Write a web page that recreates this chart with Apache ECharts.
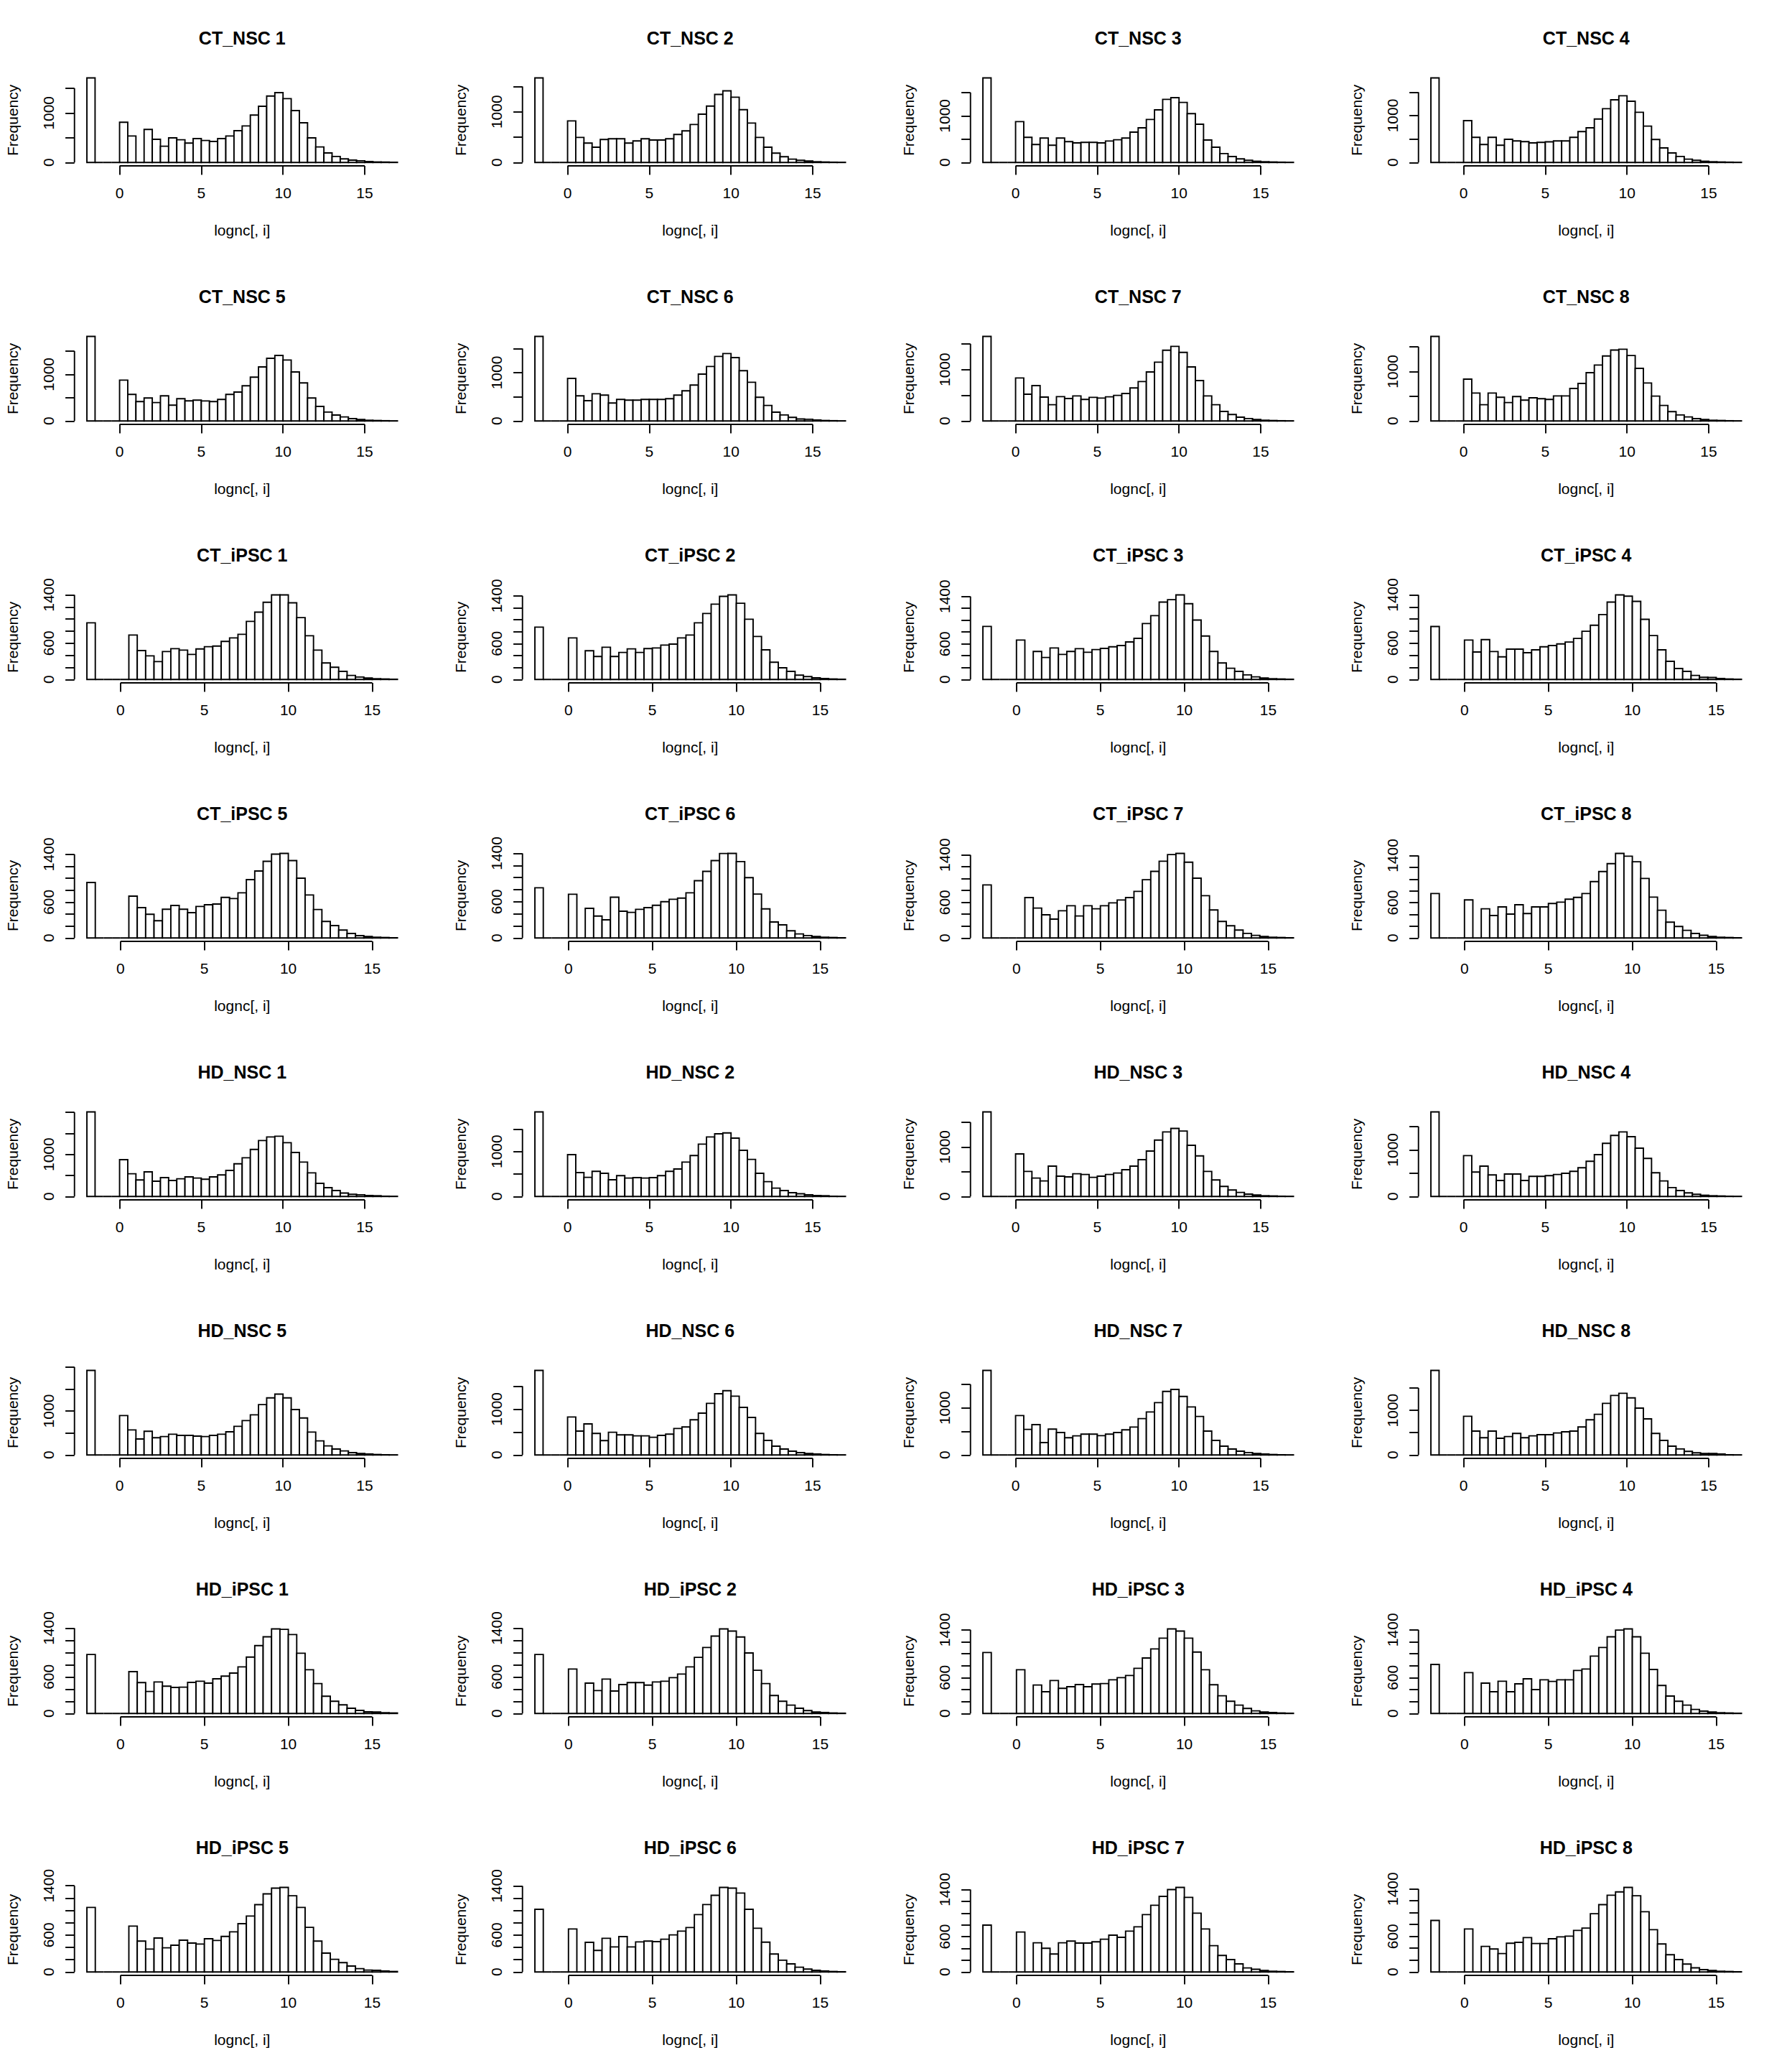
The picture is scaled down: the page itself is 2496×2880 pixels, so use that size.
<!DOCTYPE html>
<html>
<head>
<meta charset="utf-8">
<script src="https://cdn.jsdelivr.net/npm/echarts@6/dist/echarts.min.js"></script>
<style>
html,body{margin:0;padding:0;background:#fff;}
#chart{width:2496px;height:2880px;}
</style>
</head>
<body>
<div id="chart"></div>
<script>
// ---------------- DATA ----------------
// Histogram bins start at -2, width 0.5 (right-closed as in R's hist)
const binStart = -2;
const binWidth = 0.5;

const xTickValues = [0, 5, 10, 15];
const nscYTickStep = 500;
const ipscYTickStep = 200;
const nscYLabels = [0, 1000];
const ipscYLabels = [0, 600, 1400];

const panelNames = [
  'CT_NSC 1','CT_NSC 2','CT_NSC 3','CT_NSC 4',
  'CT_NSC 5','CT_NSC 6','CT_NSC 7','CT_NSC 8',
  'CT_iPSC 1','CT_iPSC 2','CT_iPSC 3','CT_iPSC 4',
  'CT_iPSC 5','CT_iPSC 6','CT_iPSC 7','CT_iPSC 8',
  'HD_NSC 1','HD_NSC 2','HD_NSC 3','HD_NSC 4',
  'HD_NSC 5','HD_NSC 6','HD_NSC 7','HD_NSC 8',
  'HD_iPSC 1','HD_iPSC 2','HD_iPSC 3','HD_iPSC 4',
  'HD_iPSC 5','HD_iPSC 6','HD_iPSC 7','HD_iPSC 8'
];

// NSC: 38 bins (-2 .. 17)
const CT_NSC_1 = [1710,0,0,0, 812,536,0,667,469,329,498,459,391,483, 444,425,483,536,643,739,957,1135,1343,1411, 1290,1048,802,498,314,193,121,72,48,34, 19,10,8,4];
const CT_NSC_2 = [1670,0,0,0, 821,495,382,302,453,467,467,382,425,467, 443,443,467,552,623,750,953,1113,1344,1415, 1288,1042,778,495,302,184,113,66,42,28, 14,9,5,3];
const CT_NSC_3 = [1815,0,0,0, 877,539,385,523,369,523,446,421,431,431, 421,460,487,523,651,744,923,1129,1354,1390, 1288,1047,821,482,328,190,128,77,46,26, 15,10,6,3];
const CT_NSC_4 = [1805,0,0,0, 893,536,383,536,367,495,459,444,418,428, 440,459,459,536,658,740,928,1148,1336,1423, 1306,1071,775,490,311,204,128,71,46,26, 15,10,6,3];
const CT_NSC_5 = [1815,0,0,0, 877,569,416,492,395,539,339,477,431,446, 430,416,462,569,621,754,939,1159,1344,1406, 1308,1052,816,492,313,190,128,87,51,31, 15,10,6,3];
const CT_NSC_6 = [1752,0,0,0, 881,520,421,564,535,371,446,431,431,446, 446,446,460,535,624,743,970,1129,1337,1396, 1312,1040,802,490,322,183,124,74,40,35, 20,10,6,3];
const CT_NSC_7 = [1646,0,0,0, 837,521,688,465,316,474,437,488,419,460, 446,470,498,535,642,767,953,1144,1376,1451, 1335,1051,786,488,316,186,126,74,47,28, 14,9,5,3];
const CT_NSC_8 = [1710,0,0,0, 845,565,329,565,478,372,493,420,469,449, 435,507,507,657,758,976,1130,1314,1434,1449, 1323,1063,768,502,314,188,121,82,48,29, 14,10,5,3];
const HD_NSC_1 = [2011,0,0,0, 875,540,392,585,364,449,381,420,466,437, 409,466,511,619,778,920,1119,1329,1414,1431, 1278,1045,818,562,312,210,142,80,51,40, 23,17,6,4];
const HD_NSC_2 = [1883,0,0,0, 931,532,426,559,516,372,463,410,420,410, 420,463,559,612,766,910,1165,1325,1394,1415, 1298,1027,825,516,330,186,133,85,59,37, 21,16,5,3];
const HD_NSC_3 = [1710,0,0,0, 860,507,372,314,613,411,396,459,444,386, 411,444,473,541,613,744,918,1140,1304,1376, 1323,1034,821,507,333,203,130,82,48,29, 14,10,5,3];
const HD_NSC_4 = [1815,0,0,0, 877,523,651,462,344,482,482,344,431,431, 446,472,498,539,616,754,898,1139,1309,1385, 1282,1036,816,508,333,190,128,77,46,26, 15,10,5,3];
const HD_NSC_5 = [1924,0,0,0, 896,570,364,538,391,418,472,445,445,429, 418,445,472,527,652,782,912,1146,1298,1385, 1298,1032,842,521,320,206,136,92,54,33, 22,11,5,3];
const HD_NSC_6 = [1844,0,0,0, 828,521,677,469,313,495,438,438,417,417, 386,427,453,578,610,766,912,1125,1334,1401, 1281,1037,818,469,318,193,130,83,52,31, 21,10,5,3];
const HD_NSC_7 = [1798,0,0,0, 838,544,645,264,549,478,366,406,442,442, 411,442,478,534,594,772,914,1113,1351,1392, 1245,1021,818,508,310,188,127,81,51,30, 20,10,5,3];
const HD_NSC_8 = [1894,0,0,0, 867,535,385,535,375,412,482,385,428,455, 455,492,519,535,626,787,910,1156,1332,1380, 1279,1049,808,482,326,198,134,80,48,32, 32,21,5,3];

// iPSC: 37 bins (-2 .. 16.5)
const CT_iPSC_1 = [937,0,0,0, 0,735,478,391,296,462,510,486,415,506, 542,553,629,688,747,961,1115,1277,1399,1400, 1269,1024,723,486,273,202,134,67,40,24, 12,8,4];
const CT_iPSC_2 = [876,0,0,0, 696,0,480,384,540,384,452,512,452,516, 528,576,592,696,744,948,1104,1260,1392,1416, 1276,1008,720,496,288,196,136,72,48,28, 16,8,4];
const CT_iPSC_3 = [895,0,0,0, 665,0,472,371,532,423,472,520,459,504, 524,552,572,633,693,943,1076,1306,1346,1427, 1278,1003,733,472,278,189,137,77,44,24, 12,8,4];
const CT_iPSC_4 = [877,0,0,0, 652,454,660,462,375,502,502,442,490,541, 561,589,620,679,798,897,1074,1280,1400,1379, 1292,995,727,490,300,182,134,67,36,32, 16,8,4];
const CT_iPSC_5 = [928,0,0,0, 0,700,508,396,288,480,544,480,424,528, 556,568,680,660,756,976,1120,1284,1404,1416, 1296,1000,720,476,276,208,132,76,40,24, 12,8,4];
const CT_iPSC_6 = [830,0,0,0, 723,0,490,363,300,675,442,423,474,502, 541,600,640,660,747,948,1102,1280,1398,1400, 1264,999,727,482,265,217,119,67,40,24, 12,8,4];
const CT_iPSC_7 = [895,0,0,0, 0,681,504,391,318,459,544,371,544,492, 544,592,641,681,786,983,1124,1294,1407,1427, 1278,1008,713,472,278,206,133,77,44,24, 12,8,4];
const CT_iPSC_8 = [755,0,0,0, 646,0,495,382,528,406,564,414,528,528, 585,609,658,690,755,958,1129,1263,1437,1389, 1295,1011,694,471,268,195,130,77,45,24, 12,8,4];
const HD_iPSC_1 = [968,0,0,0, 0,686,506,361,517,447,427,431,510,529, 498,568,612,662,764,925,1113,1258,1388,1380, 1294,988,717,490,282,200,141,86,51,27, 24,12,8];
const HD_iPSC_2 = [968,0,0,0, 729,0,498,376,564,368,474,506,506,466, 517,529,588,647,764,921,1082,1270,1388,1352, 1254,992,709,490,294,200,137,86,47,24, 16,8,4];
const HD_iPSC_3 = [1020,0,0,0, 732,0,476,364,552,420,448,484,448,492, 500,564,600,636,756,928,1080,1260,1416,1380, 1260,1028,732,480,296,204,140,84,44,24, 16,8,4];
const HD_iPSC_4 = [820,0,0,0, 684,0,508,364,540,364,496,580,400,564, 536,564,564,720,744,960,1104,1284,1396,1416, 1284,1008,736,468,292,204,140,68,40,24, 12,8,4];
const HD_iPSC_5 = [1048,0,0,0, 0,745,501,372,551,392,435,516,469,454, 539,512,578,652,784,908,1094,1269,1362,1374, 1238,1048,725,501,307,206,151,97,54,31, 27,16,8];
const HD_iPSC_6 = [1019,0,0,0, 700,0,482,350,548,408,576,408,490,502, 494,533,603,665,723,934,1097,1248,1377,1365, 1284,1019,712,486,292,191,132,78,47,27, 16,8,4];
const HD_iPSC_7 = [796,0,0,0, 678,0,495,402,305,495,524,491,491,512, 556,625,589,694,767,974,1133,1283,1400,1437, 1267,999,731,447,280,211,138,69,45,24, 12,8,4];
const HD_iPSC_8 = [870,0,0,0, 725,0,431,387,310,484,500,580,480,480, 560,592,604,701,741,983,1136,1294,1350,1427, 1286,1016,713,472,290,209,133,69,40,24, 12,8,4];

const panelCounts = [
  CT_NSC_1, CT_NSC_2, CT_NSC_3, CT_NSC_4, CT_NSC_5, CT_NSC_6, CT_NSC_7, CT_NSC_8,
  CT_iPSC_1, CT_iPSC_2, CT_iPSC_3, CT_iPSC_4, CT_iPSC_5, CT_iPSC_6, CT_iPSC_7, CT_iPSC_8,
  HD_NSC_1, HD_NSC_2, HD_NSC_3, HD_NSC_4, HD_NSC_5, HD_NSC_6, HD_NSC_7, HD_NSC_8,
  HD_iPSC_1, HD_iPSC_2, HD_iPSC_3, HD_iPSC_4, HD_iPSC_5, HD_iPSC_6, HD_iPSC_7, HD_iPSC_8
];

// ---------------- LAYOUT ----------------
const COLS = 4, CELL_W = 624, CELL_H = 360;
const LINE = 25.3;                 // one margin line (px)
const MAR = {b: 5.1, l: 4.1, t: 4.1, r: 2.1};
const FONT = "'Liberation Sans', Arial, Helvetica, sans-serif";
const LW = 1.9;

const grids = [], xAxes = [], yAxes = [], series = [], graphics = [];
const plain = v => String(v);

panelNames.forEach((name, i) => {
  const counts = panelCounts[i];
  const isNSC = name.indexOf('iPSC') < 0;
  const col = i % COLS, row = Math.floor(i / COLS);
  const left = col * CELL_W + MAR.l * LINE;
  const top = row * CELL_H + MAR.t * LINE;
  const width = CELL_W - (MAR.l + MAR.r) * LINE;
  const height = CELL_H - (MAR.t + MAR.b) * LINE;

  const lo = binStart, hi = binStart + counts.length * binWidth;
  const ymax = Math.max.apply(null, counts);
  const step = isNSC ? nscYTickStep : ipscYTickStep;
  const yTicks = [];
  for (let v = 0; v <= ymax * 1.04; v += step) yTicks.push(v);
  const yLabels = isNSC ? nscYLabels : ipscYLabels;

  grids.push({left, top, width, height, containLabel: false});

  xAxes.push({
    gridIndex: i, type: 'value',
    min: lo - 0.04 * (hi - lo), max: hi + 0.04 * (hi - lo),
    axisLine: {show: false, onZero: false},
    splitLine: {show: false},
    axisTick: {show: true, customValues: xTickValues, length: 12.65, lineStyle: {color: '#000', width: LW}},
    axisLabel: {show: true, customValues: xTickValues, formatter: plain, margin: 27, color: '#000', fontSize: 21, lineHeight: 21, fontFamily: FONT},
    name: 'lognc[, i]', nameLocation: 'middle', nameGap: 79,
    nameTextStyle: {color: '#000', fontSize: 21, lineHeight: 21, fontFamily: FONT}
  });

  yAxes.push({
    gridIndex: i, type: 'value',
    min: -0.04 * ymax, max: 1.04 * ymax,
    axisLine: {show: false, onZero: false},
    splitLine: {show: false},
    axisTick: {show: true, customValues: yTicks, length: 12.65, lineStyle: {color: '#000', width: LW}},
    axisLabel: {show: true, customValues: yLabels, formatter: plain, rotate: 90, margin: 26, color: '#000', fontSize: 21, lineHeight: 21, fontFamily: FONT},
    name: 'Frequency', nameLocation: 'middle', nameGap: 76, nameRotate: 90,
    nameTextStyle: {color: '#000', fontSize: 21, lineHeight: 21, fontFamily: FONT}
  });

  // histogram bars
  const barData = counts.map((c, k) => [lo + k * binWidth, lo + (k + 1) * binWidth, c]);
  series.push({
    type: 'custom', xAxisIndex: i, yAxisIndex: i, silent: true, clip: false,
    data: barData,
    renderItem: (params, api) => {
      const p0 = api.coord([api.value(0), 0]);
      const p1 = api.coord([api.value(1), api.value(2)]);
      return {
        type: 'rect',
        shape: {x: p0[0], y: p1[1], width: p1[0] - p0[0], height: p0[1] - p1[1]},
        style: {fill: '#fff', stroke: '#000', lineWidth: LW}
      };
    }
  });

  // R-style axis lines (span first..last tick)
  series.push({
    type: 'custom', xAxisIndex: i, yAxisIndex: i, silent: true, clip: false,
    data: [[xTickValues[0], xTickValues[xTickValues.length - 1], yTicks[0], yTicks[yTicks.length - 1]]],
    renderItem: (params, api) => {
      const cs = params.coordSys;
      const a = api.coord([api.value(0), 0]);
      const b = api.coord([api.value(1), 0]);
      const c = api.coord([0, api.value(2)]);
      const d = api.coord([0, api.value(3)]);
      const yb = cs.y + cs.height;
      return {
        type: 'group',
        children: [
          {type: 'line', shape: {x1: a[0], y1: yb, x2: b[0], y2: yb}, style: {stroke: '#000', lineWidth: LW}},
          {type: 'line', shape: {x1: cs.x, y1: c[1], x2: cs.x, y2: d[1]}, style: {stroke: '#000', lineWidth: LW}}
        ]
      };
    }
  });

  graphics.push({
    type: 'text',
    x: left + width / 2,
    y: row * CELL_H + 53,
    style: {text: name, textAlign: 'center', textVerticalAlign: 'middle',
            font: 'bold 25px ' + FONT, fill: '#000'}
  });
});

const chart = echarts.init(document.getElementById('chart'), null, {renderer: 'svg', width: 2496, height: 2880});
chart.setOption({
  backgroundColor: '#fff',
  animation: false,
  grid: grids,
  xAxis: xAxes,
  yAxis: yAxes,
  series: series,
  graphic: graphics
});
</script>
</body>
</html>
